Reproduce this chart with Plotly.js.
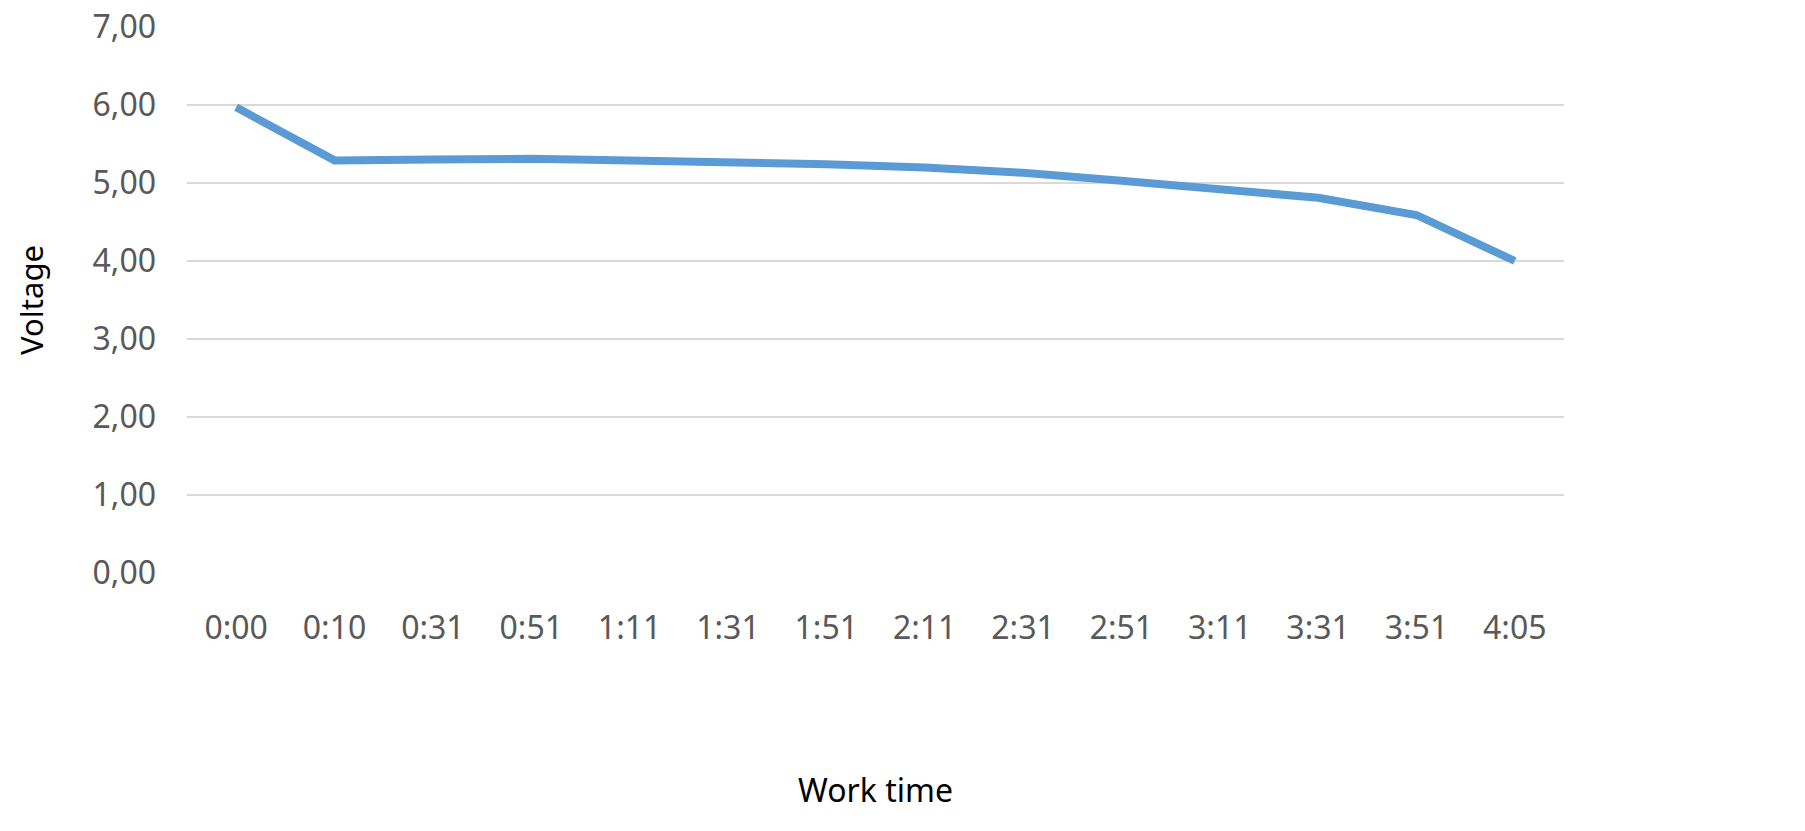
<!DOCTYPE html>
<html>
<head>
<meta charset="utf-8">
<script src="https://cdn.plot.ly/plotly-3.0.1.min.js"></script>
<style>
  html, body { margin: 0; padding: 0; background: #ffffff; }
  #chart { width: 1805px; height: 831px; }
</style>
</head>
<body>
<div id="chart"></div>
<script>
// Categories (work time) and measured voltage values
const workTime = ["0:00", "0:10", "0:31", "0:51", "1:11", "1:31", "1:51", "2:11", "2:31", "2:51", "3:11", "3:31", "3:51", "4:05"];
const voltage = [5.97, 5.29, 5.30, 5.31, 5.29, 5.27, 5.24, 5.20, 5.13, 5.03, 4.92, 4.81, 4.59, 4.00];
const yTickValues = [0, 1, 2, 3, 4, 5, 6, 7];
const yTickLabels = ["0,00", "1,00", "2,00", "3,00", "4,00", "5,00", "6,00", "7,00"];

const trace = {
  type: "scatter",
  mode: "lines",
  x: workTime,
  y: voltage,
  line: { color: "#5b9bd5", width: 8, shape: "linear" },
  hoverinfo: "x+y"
};

const layout = {
  width: 1805,
  height: 831,
  margin: { l: 187, r: 241, t: 27, b: 258 },
  paper_bgcolor: "#ffffff",
  plot_bgcolor: "#ffffff",
  showlegend: false,
  font: { family: "Noto Sans, sans-serif", color: "#595959", size: 32 },
  xaxis: {
    type: "category",
    range: [-0.5, 13.5],
    showgrid: false,
    zeroline: false,
    showline: false,
    ticks: "",
    ticklabelstandoff: 33,
    tickfont: { size: 32, color: "#595959" },
    title: { text: "Work time", font: { size: 32, color: "#000000" }, standoff: 132 },
    automargin: false
  },
  yaxis: {
    range: [0, 7],
    tickvals: yTickValues,
    ticktext: yTickLabels,
    showgrid: true,
    gridcolor: "#d9d9d9",
    gridwidth: 2,
    zeroline: false,
    showline: false,
    ticks: "",
    ticklabelstandoff: 30,
    tickfont: { size: 32, color: "#595959" },
    title: { text: "Voltage", font: { size: 31, color: "#000000" }, standoff: 39 },
    automargin: false
  }
};

Plotly.newPlot("chart", [trace], layout, { displayModeBar: false, staticPlot: true });
</script>
</body>
</html>
